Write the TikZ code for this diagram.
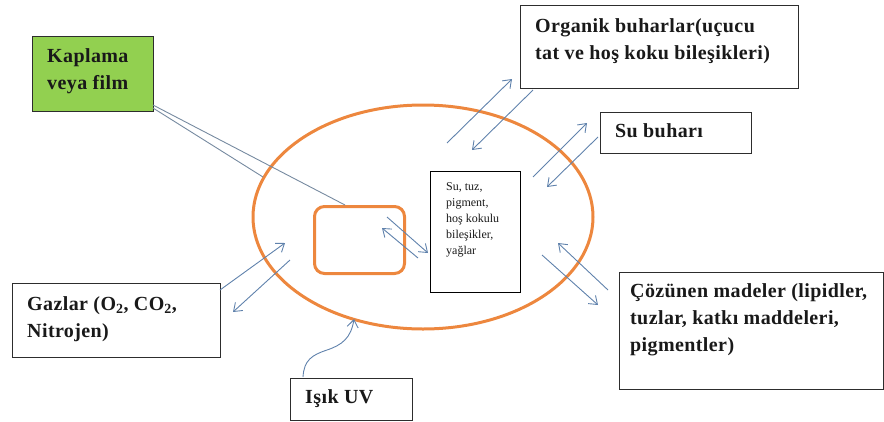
\documentclass[tikz,border=0pt]{standalone}
\usepackage{fontspec}
\setmainfont{Liberation Serif}
\newfontfamily\boxfont[LetterSpace=2]{Liberation Serif}
\usetikzlibrary{arrows.meta,shapes.geometric,calc}

\definecolor{filmgreen}{RGB}{146,208,80}
\definecolor{pkgorange}{RGB}{237,135,62}
\definecolor{flowblue}{RGB}{96,130,172}
\definecolor{leadgray}{RGB}{118,138,160}
\definecolor{edgegray}{RGB}{45,45,45}
\definecolor{inktext}{RGB}{25,25,25}

\tikzset{
  box/.style={draw=edgegray, line width=1.3pt, anchor=north west, inner sep=0pt},
  lbl/.style={font=\boxfont\bfseries\fontsize{20}{27}\selectfont, text=inktext,
              inner sep=0pt, anchor=north west, align=left},
  small/.style={font=\fontsize{12}{16}\selectfont, text=inktext,
                inner sep=0pt, anchor=north west, align=left},
  flow/.style={draw=flowblue, line width=0.9pt,
               -{Straight Barb[length=7.5pt,width=11pt]}},
  lead/.style={draw=leadgray, line width=0.9pt},
  orangeline/.style={draw=pkgorange, line width=3pt}
}

\begin{document}
\begin{tikzpicture}[x=1pt,y=-1pt]
\useasboundingbox (0,0) rectangle (884,421);

% package wall and inner compartment
\node[orangeline, ellipse, minimum width=340pt, minimum height=224pt, inner sep=0pt]
  (pkg) at (423,217) {};
\node[orangeline, rectangle, rounded corners=10pt, anchor=north west,
      minimum width=90pt, minimum height=67pt, inner sep=0pt] (food) at (313,205) {};

% boxes
\node[box, fill=filmgreen, minimum width=121pt, minimum height=75pt] (kap) at (32,36) {};
\node[box, minimum width=278pt, minimum height=83pt] (org) at (520,5) {};
\node[box, minimum width=151pt, minimum height=41pt] (sub) at (600,112) {};
\node[box, minimum width=208pt, minimum height=74pt] (gaz) at (12,283) {};
\node[box, minimum width=122pt, minimum height=42pt] (uv) at (290,378) {};
\node[box, minimum width=264pt, minimum height=117pt] (coz) at (619,272) {};
\node[box, line width=1.1pt, draw=black, minimum width=90pt, minimum height=121pt] (stb) at (430,171) {};

% labels
\node[lbl] (kapt) at (47,48.5) {Kaplama\\veya film};
\node[lbl] (orgt) at (535,18) {Organik buharlar(uçucu\\tat ve hoş koku bileşikleri)};
\node[lbl] (subt) at (615,123.5) {Su buharı};
\node[lbl] (gazt) at (27,296) {Gazlar (O\textsubscript{2}, CO\textsubscript{2},\\Nitrojen)};
\node[lbl] (uvt) at (305,389.5) {Işık UV};
\node[lbl] (cozt) at (630,283.5) {Çözünen madeler (lipidler,\\tuzlar, katkı maddeleri,\\pigmentler)};
\node[small] (stbt) at (446,182.5) {Su, tuz,\\pigment,\\hoş kokulu\\bileşikler,\\yağlar};

% arrow end points
\coordinate (o1a) at (447,143); \coordinate (o1b) at (512,79);
\coordinate (o2a) at (533,90);  \coordinate (o2b) at (472,150);
\coordinate (s1a) at (533,177); \coordinate (s1b) at (587,123);
\coordinate (s2a) at (598,137); \coordinate (s2b) at (547,187);
\coordinate (g1a) at (220,290); \coordinate (g1b) at (285,243);
\coordinate (g2a) at (290,260); \coordinate (g2b) at (233,312);
\coordinate (c1a) at (542,255); \coordinate (c1b) at (598,305);
\coordinate (c2a) at (608,290); \coordinate (c2b) at (558,243);
\coordinate (i1a) at (387,217); \coordinate (i1b) at (428,253);
\coordinate (i2a) at (418,258); \coordinate (i2b) at (382,228);
\coordinate (uva) at (303,377); \coordinate (uvb) at (354,319);
\coordinate (k1) at (153,105); \coordinate (k2) at (153,108);
\coordinate (foodtop) at (345,205); \coordinate (wallhit) at (263,177);

% leader lines from the coating
\draw[lead] (k1) -- (foodtop);
\draw[lead] (k2) -- (wallhit);

% exchange arrows
\draw[flow] (o1a) -- (o1b);
\draw[flow] (o2a) -- (o2b);
\draw[flow] (s1a) -- (s1b);
\draw[flow] (s2a) -- (s2b);
\draw[flow] (g1a) -- (g1b);
\draw[flow] (g2a) -- (g2b);
\draw[flow] (c1a) -- (c1b);
\draw[flow] (c2a) -- (c2b);
\draw[flow] (i1a) -- (i1b);
\draw[flow] (i2a) -- (i2b);

% light entering the package
\draw[flow] (uva) .. controls (304,360) and (312,355) .. (327,350)
                  .. controls (342,345) and (351,338) .. (uvb);
\end{tikzpicture}
\end{document}
